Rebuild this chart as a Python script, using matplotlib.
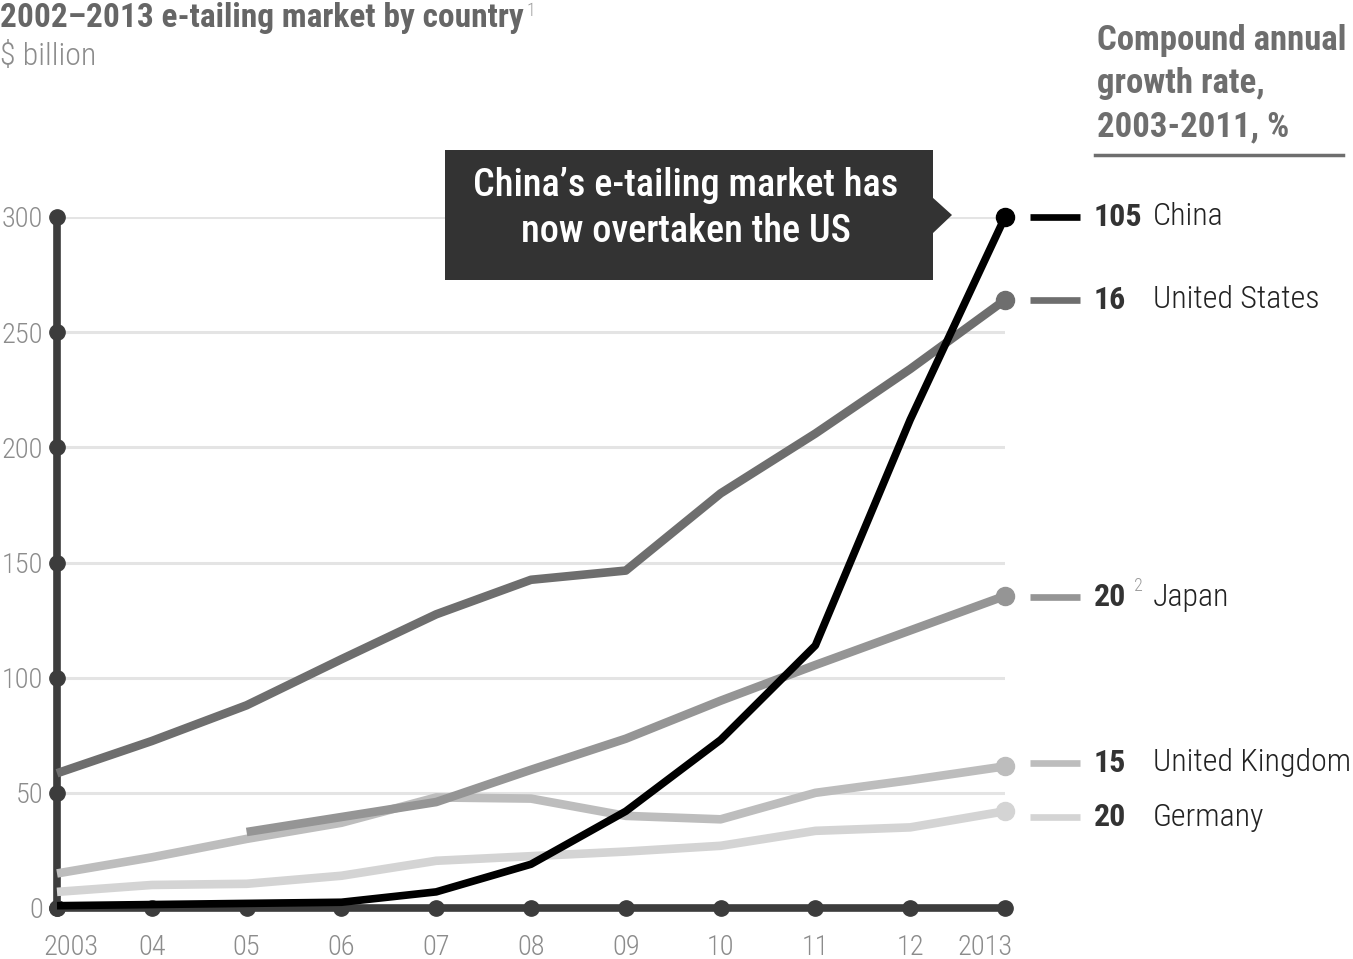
import matplotlib
matplotlib.use('Agg')
import matplotlib.pyplot as plt
import matplotlib.transforms as mtransforms
from matplotlib import font_manager
from matplotlib.patches import Rectangle, Polygon
from matplotlib.lines import Line2D

# data, $ billion
years = [2003, 2004, 2005, 2006, 2007, 2008, 2009, 2010, 2011, 2012, 2013]
year_labels = ['2003', '04', '05', '06', '07', '08', '09', '10', '11', '12', '2013']
germany = [7, 10, 10.5, 14, 20.5, 22.5, 24.5, 27, 33.5, 35, 42]
uk = [15, 22, 30, 37, 48, 47.5, 40, 38.5, 50, 55.5, 61.5]
japan_years = [2005, 2006, 2007, 2008, 2009, 2010, 2011, 2012, 2013]
japan = [33, 39.5, 46, 60, 73.5, 90, 105.5, 120.5, 135.5]
us = [58.5, 72.5, 88, 108, 127.5, 142.5, 146.5, 180, 206, 234, 264]
china = [1, 1.5, 2, 2.5, 7, 19, 42, 73, 114, 212, 300]

names = ['China', 'United States', 'Japan', 'United Kingdom', 'Germany']
cagr = ['105', '16', '20', '15', '20']
label_y = [300, 264, 135, 63, 39.5]
yticks = [0, 50, 100, 150, 200, 250, 300]

c_china = '#000000'
c_us = '#6e6e6e'
c_japan = '#959595'
c_uk = '#bdbdbd'
c_ger = '#d4d4d4'
c_axis = '#3c3c3c'

avail = {f.name for f in font_manager.fontManager.ttflist}
font = 'DejaVu Sans'
for cand in ['Roboto Condensed', 'Liberation Sans Narrow', 'Open Sans Condensed', 'Liberation Sans']:
    if cand in avail:
        font = cand
        break
plt.rcParams['font.family'] = [font, 'DejaVu Sans']

W, H = 1353, 959
fig = plt.figure(figsize=(W / 100, H / 100), dpi=100)


def fx(px):
    return px / W


def fy(py):
    return 1 - py / H


ax = fig.add_axes([fx(57), fy(908), fx(1005) - fx(57), fy(217) - fy(908)])
ax.set_xlim(2003, 2013)
ax.set_ylim(0, 300)

for s in ['top', 'right']:
    ax.spines[s].set_visible(False)
for s in ['left', 'bottom']:
    ax.spines[s].set_linewidth(5.5)
    ax.spines[s].set_color(c_axis)
    ax.spines[s].set_zorder(1)
ax.set_yticks(yticks)
ax.set_xticks(years)
ax.set_yticklabels([str(v) for v in yticks], fontweight='light')
ax.set_xticklabels(year_labels, fontweight='light')
ax.tick_params(length=0, labelsize=20.5, colors='#8c8c8c')
ax.tick_params(axis='y', pad=10)
ax.tick_params(axis='x', pad=19)
ax.yaxis.grid(True, color='#e4e4e4', linewidth=2.2)
ax.set_axisbelow(True)

# nudge the end year labels inward like the original
xl = ax.get_xticklabels()
xl[0].set_transform(xl[0].get_transform() + mtransforms.ScaledTranslation(0.14, 0, fig.dpi_scale_trans))
xl[-1].set_transform(xl[-1].get_transform() + mtransforms.ScaledTranslation(-0.2, 0, fig.dpi_scale_trans))

# series lines
series = [
    (years, germany, c_ger, 6.2),
    (years, uk, c_uk, 6.2),
    (japan_years, japan, c_japan, 6.2),
    (years, us, c_us, 6.2),
    (years, china, c_china, 5.5),
]
for xs, ys, col, lw in series:
    ax.plot(xs, ys, color=col, lw=lw, solid_capstyle='butt', solid_joinstyle='round',
            zorder=3, clip_on=False)
    ax.plot(xs[-1], ys[-1], 'o', color=col, ms=13, zorder=4, clip_on=False)

# dots on axes
ax.plot([2003] * len(yticks), yticks, 'o', color=c_axis, ms=11, zorder=2, clip_on=False)
ax.plot(years, [0] * len(years), 'o', color=c_axis, ms=11, zorder=2, clip_on=False)

# right-hand labels
tr = ax.get_yaxis_transform()
cols = [c_china, c_us, c_japan, c_uk, c_ger]
aw = 948.0
for name, rate, yv, col in zip(names, cagr, label_y, cols):
    ax.add_line(Line2D([(1030 - 57) / aw, (1080 - 57) / aw], [yv, yv], transform=tr,
                       color=col, lw=4.8, solid_capstyle='butt', clip_on=False))
    ax.text((1094 - 57) / aw, yv, rate, transform=tr, fontsize=23, fontweight='bold',
            color='#333333', va='center', ha='left')
    ax.text((1153 - 57) / aw, yv, name, transform=tr, fontsize=23, fontweight='light',
            color='#222222', va='center', ha='left')
ax.text((1134 - 57) / aw, 135 + 5, '2', transform=tr, fontsize=13, color='#9a9a9a',
        fontweight='light', va='center', ha='left')

# titles
fig.text(fx(0), fy(2), '2002\u20132013 e-tailing market by country', fontsize=24,
         fontweight='bold', color='#666666', va='top', ha='left')
fig.text(fx(527), fy(2), '1', fontsize=13, color='#9a9a9a', fontweight='light',
         va='top', ha='left')
fig.text(fx(0), fy(42), '$ billion', fontsize=23, color='#8c8c8c', fontweight='light',
         va='top', ha='left')

fig.text(fx(1097), fy(24), 'Compound annual\ngrowth rate,\n2003-2011, %', fontsize=25,
         fontweight='bold', color='#6e6e6e', va='top', ha='left', linespacing=1.4)
fig.add_artist(Line2D([fx(1095), fx(1343)], [fy(155), fy(155)], color='#6e6e6e', lw=2.5))

# callout
fig.add_artist(Rectangle((fx(445), fy(280)), fx(933) - fx(445), fy(150) - fy(280),
                         facecolor='#333333', edgecolor='none'))
fig.add_artist(Polygon([(fx(932), fy(197)), (fx(952), fy(215)), (fx(932), fy(234))],
                       closed=True, facecolor='#333333', edgecolor='none'))
fig.text(fx(686), fy(185), 'China\u2019s e-tailing market has', fontsize=27.5, color='white',
         fontweight='medium', va='center', ha='center')
fig.text(fx(686), fy(231), 'now overtaken the US', fontsize=27.5, color='white',
         fontweight='medium', va='center', ha='center')

fig.savefig('out.png', dpi=100)
